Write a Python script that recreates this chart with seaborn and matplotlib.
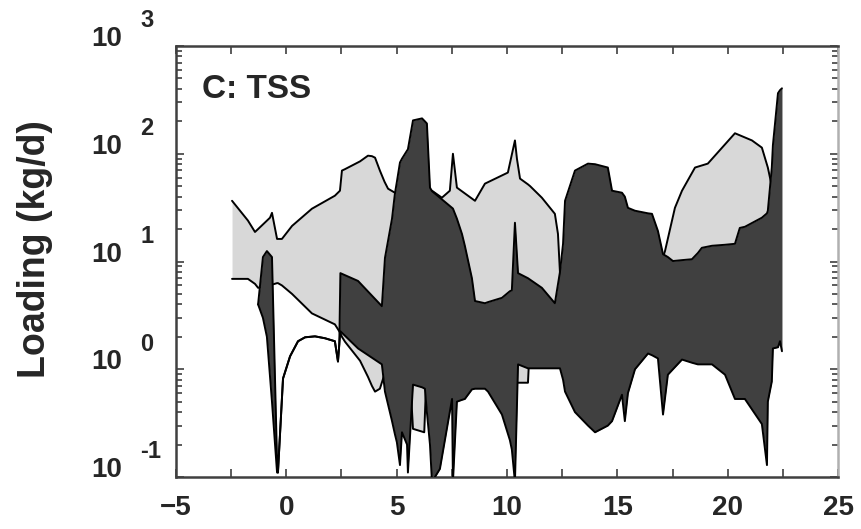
import matplotlib
matplotlib.use("Agg")
import matplotlib.pyplot as plt
import matplotlib.transforms as mtransforms
from matplotlib.ticker import MultipleLocator, LogLocator, NullFormatter
import seaborn as sns

# light band (wide range)
light_x = [-2.46, -1.74, -1.42, -1.28, -0.74, -0.65, -0.42, -0.38, -0.20, 0.26,
           1.16, 2.20, 2.43, 2.52, 2.66, 3.34, 3.70, 3.88, 4.02, 4.24,
           4.45, 4.61, 4.92, 5.60, 5.74, 6.25, 6.35, 6.60, 7.05, 7.41,
           7.55, 7.73, 8.55, 9.00, 10.04, 10.36, 10.45, 10.59, 10.95, 11.05,
           11.58, 12.17, 12.31, 12.45, 13.0, 16.5, 17.07, 17.16, 17.61, 17.93,
           18.52, 19.10, 20.33, 21.10, 21.55, 21.82, 22.0]
light_hi = [36.6, 24, 18.8, 20, 25.5, 28.3, 16.2, 16.2, 16.2, 21.4,
            30.9, 40.8, 45.4, 69.8, 72, 85, 96, 95, 92, 69.8,
            55, 47.4, 43.5, 42, 42, 44, 44, 45.4, 39.1, 45.4,
            100, 48.5, 36.6, 52.8, 66.9, 133, 90, 58.8, 52, 50,
            39.1, 27.7, 18.0, 5.0, 8, 8, 11.0, 12.5, 31.5, 45.4,
            74.5, 81, 155, 133, 114, 74.5, 50]
light_lo = [6.9, 6.9, 6.2, 5.7, 6.0, 6.1, 6.3, 6.3, 6.0, 5.0,
            3.3, 2.61, 2.2, 2.0, 1.8, 1.2, 0.85, 0.7, 0.62, 0.66,
            0.9, 0.9, 0.9, 0.9, 0.28, 0.26, 0.9, 0.9, 0.9, 0.9,
            0.9, 0.9, 0.9, 0.9, 0.9, 0.9, 0.75, 0.75, 0.75, 2.0,
            2.0, 2.0, 2.0, 2.0, 2.0, 2.0, 2.0, 2.0, 2.0, 2.0,
            2.0, 2.0, 2.0, 2.0, 2.0, 2.0, 2.0]

# dark band
dark_x = [-1.28, -1.06, -0.88, -0.65, -0.42, -0.38, -0.15, 0.17, 0.53, 0.85,
          1.30, 1.75, 2.20, 2.34, 2.40, 2.45, 3.25, 4.33, 4.47, 4.79,
          4.92, 5.01, 5.15, 5.24, 5.47, 5.51, 5.74, 6.15, 6.28, 6.37,
          6.51, 6.60, 6.96, 7.51, 7.55, 7.73, 7.96, 8.09, 8.41, 8.55,
          9.00, 9.14, 9.77, 10.13, 10.22, 10.36, 10.50, 10.95, 11.58, 12.17,
          12.40, 12.54, 12.63, 13.08, 13.67, 13.99, 14.57, 14.76, 15.21, 15.34,
          15.48, 15.80, 16.39, 16.57, 16.84, 17.07, 17.29, 17.52, 17.93, 18.38,
          18.65, 18.83, 19.29, 19.88, 20.33, 20.55, 20.78, 21.55, 21.78, 21.82,
          22.00, 22.05, 22.28, 22.37, 22.46]
dark_hi = [4.0, 11.0, 12.5, 11.0, 0.14, 0.11, 0.82, 1.32, 1.82, 1.98,
           2.02, 1.94, 1.82, 1.18, 1.7, 7.8, 6.6, 3.85, 10.8, 25,
           42.6, 55, 83, 90, 107, 110, 204, 213, 200, 191,
           48.5, 45, 39.1, 31.5, 31, 25, 18, 14, 7.0, 4.3,
           4.1, 4.2, 4.6, 5.3, 5.4, 22.9, 7.8, 7.0, 5.7, 4.1,
           8, 14.6, 36.6, 69.8, 81, 80, 74.5, 45.4, 43.5, 40,
           31.5, 29.6, 28, 27.7, 19.2, 11.7, 11, 10.1, 10.3, 10.5,
           12, 13.4, 14, 14.3, 14.6, 20.5, 21, 25.5, 28, 29.6,
           74.5, 120, 365, 389, 405]
dark_lo = [4.0, 3.0, 2.0, 0.5, 0.11, 0.11, 0.82, 1.32, 1.82, 1.98,
           2.02, 1.94, 1.82, 1.18, 1.7, 2.25, 1.56, 1.11, 0.62, 0.33,
           0.25, 0.21, 0.129, 0.26, 0.2, 0.11, 0.72, 0.68, 0.66, 0.4,
           0.2, 0.09, 0.119, 0.53, 0.09, 0.5, 0.52, 0.53, 0.65, 0.66,
           0.66, 0.62, 0.38, 0.22, 0.18, 0.09, 1.11, 1.02, 1.02, 1.02,
           1.02, 0.8, 0.62, 0.40, 0.3, 0.26, 0.3, 0.33, 0.58, 0.33,
           0.6, 1.0, 1.40, 1.35, 1.26, 0.38, 0.89, 1.0, 1.23, 1.15,
           1.11, 1.11, 1.11, 0.89, 0.53, 0.53, 0.53, 0.31, 0.129, 0.5,
           0.77, 1.56, 1.6, 1.82, 1.47]

y_exps = [-1, 0, 1, 2, 3]

LIGHT = "#d8d8d8"
DARK = "#404040"
FONT = ["Liberation Sans", "DejaVu Sans"]

sns.set_style("white")
plt.rcParams["font.family"] = FONT
plt.rcParams["font.weight"] = "bold"

fig = plt.figure(figsize=(8.61, 5.29), dpi=100)
ax = fig.add_axes([0.2044, 0.0983, 0.7689, 0.8147])

# light band first, then the dark band covers it (outlines included)
ax.fill_between(light_x, light_lo, light_hi, color=LIGHT, lw=0, zorder=1)
sns.lineplot(x=light_x, y=light_hi, color="black", lw=1.4, sort=False,
             estimator=None, ax=ax, zorder=2)
sns.lineplot(x=light_x, y=light_lo, color="black", lw=1.4, sort=False,
             estimator=None, ax=ax, zorder=2)

ax.fill_between(dark_x, dark_lo, dark_hi, color=DARK, lw=0, zorder=3)
sns.lineplot(x=dark_x, y=dark_hi, color="black", lw=1.4, sort=False,
             estimator=None, ax=ax, zorder=4)
sns.lineplot(x=dark_x, y=dark_lo, color="black", lw=1.4, sort=False,
             estimator=None, ax=ax, zorder=4)

ax.set_yscale("log")
ax.set_xlim(-5, 25)
ax.set_ylim(0.1, 1000)

ax.xaxis.set_major_locator(MultipleLocator(5))
ax.xaxis.set_minor_locator(MultipleLocator(2.5))
ax.yaxis.set_major_locator(LogLocator(base=10))
ax.yaxis.set_minor_locator(LogLocator(base=10, subs=range(2, 10)))
ax.yaxis.set_minor_formatter(NullFormatter())
ax.tick_params(which="both", direction="in", top=True, right=True,
               left=True, bottom=True, color="#404040", width=1.2)
ax.tick_params(which="major", length=6)
ax.tick_params(which="minor", length=4.5)
ax.tick_params(axis="x", which="minor", length=6)
ax.tick_params(axis="x", labelsize=20, pad=13)
ax.tick_params(axis="y", labelleft=False)
for lab in ax.get_xticklabels():
    lab.set_fontweight("bold")

for side, sp in ax.spines.items():
    sp.set_linewidth(1.8)
    sp.set_color("#b0b0b0" if side == "right" else "#404040")

# y tick labels written as "10" plus a raised exponent
trans = mtransforms.blended_transform_factory(ax.transAxes, ax.transData)
for e in y_exps:
    ax.text(-0.0815, 10.0 ** e, "10", transform=trans, ha="right", va="baseline",
            fontsize=20, fontweight="bold", clip_on=False)
    ax.annotate(str(e), xy=(-0.054, 10.0 ** e), xycoords=trans,
                xytext=(0, 13.5), textcoords="offset points", ha="left",
                va="baseline", fontsize=17, fontweight="bold",
                annotation_clip=False)

ax.text(0.039, 0.935, "C: TSS", transform=ax.transAxes, ha="left", va="top",
        fontsize=24, fontweight="bold")

ax.set_xlabel("")
ax.set_ylabel("Loading (kg/d)", fontsize=27, fontweight="bold")
ax.yaxis.set_label_coords(-0.186, 0.529)

fig.savefig("out.png", dpi=100)
